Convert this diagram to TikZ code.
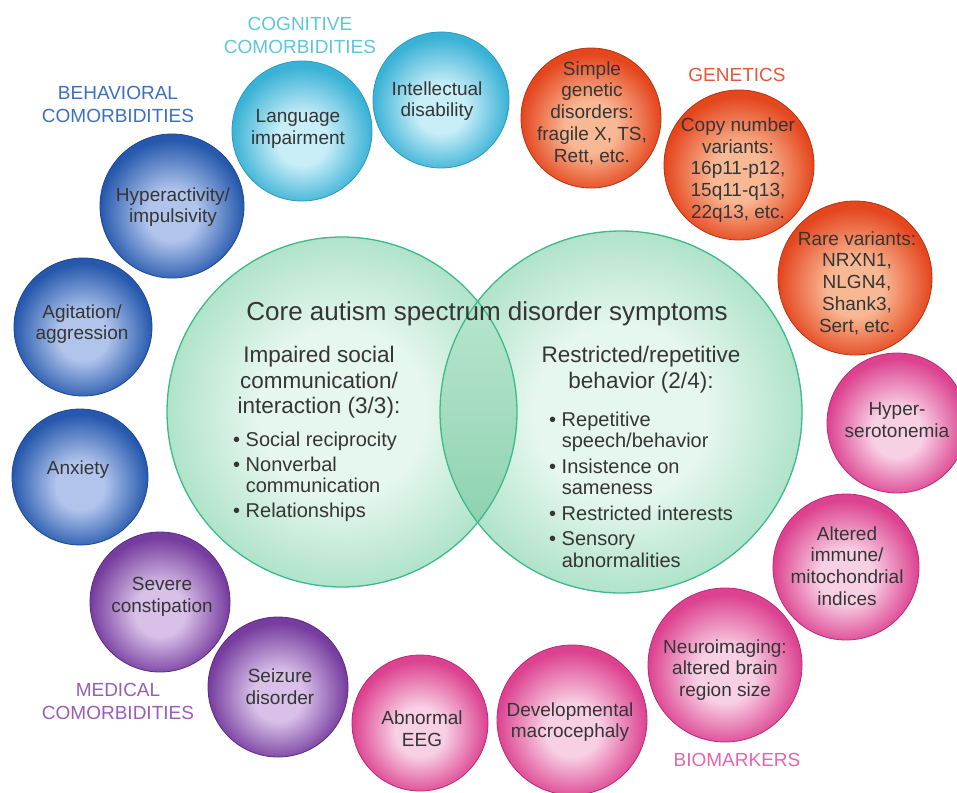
\documentclass[tikz,border=0pt]{standalone}
\usepackage{fontspec}
\setmainfont{Liberation Sans}
\definecolor{txtgray}{HTML}{353535}
\definecolor{coglight}{HTML}{C8EEF8}\definecolor{cogdark}{HTML}{3AB2D6}\definecolor{cogline}{HTML}{2A98BE}\definecolor{coglab}{HTML}{5EC6DC}
\definecolor{behlight}{HTML}{B0C4EC}\definecolor{behdark}{HTML}{2659AD}\definecolor{behline}{HTML}{1C4590}\definecolor{behlab}{HTML}{3D6FBF}
\definecolor{genlight}{HTML}{F9B894}\definecolor{gendark}{HTML}{E4461E}\definecolor{genline}{HTML}{B83212}\definecolor{genlab}{HTML}{E3583A}
\definecolor{biolight}{HTML}{F8D0E4}\definecolor{biodark}{HTML}{DC4290}\definecolor{bioline}{HTML}{B82A74}\definecolor{biolab}{HTML}{E466A8}
\definecolor{medlight}{HTML}{D8C0E8}\definecolor{meddark}{HTML}{763C9E}\definecolor{medline}{HTML}{5A2A80}\definecolor{medlab}{HTML}{9A5DB5}
\definecolor{vennin}{HTML}{E6F7EE}\definecolor{vennout}{HTML}{B0E3CA}\definecolor{lenstop}{HTML}{C2EAD6}\definecolor{lensbot}{HTML}{7FCCA6}\definecolor{vennline}{HTML}{3DB98C}
\pgfdeclareradialshading{cogsh}{\pgfpoint{0bp}{-4bp}}{color(0bp)=(coglight); color(9bp)=(coglight); color(25bp)=(cogdark); color(50bp)=(cogdark)}
\pgfdeclareradialshading{behsh}{\pgfpoint{0bp}{-4bp}}{color(0bp)=(behlight); color(9bp)=(behlight); color(25bp)=(behdark); color(50bp)=(behdark)}
\pgfdeclareradialshading{gensh}{\pgfpoint{0bp}{-4bp}}{color(0bp)=(genlight); color(9bp)=(genlight); color(25bp)=(gendark); color(50bp)=(gendark)}
\pgfdeclareradialshading{biosh}{\pgfpoint{0bp}{-4bp}}{color(0bp)=(biolight); color(9bp)=(biolight); color(25bp)=(biodark); color(50bp)=(biodark)}
\pgfdeclareradialshading{medsh}{\pgfpoint{0bp}{-4bp}}{color(0bp)=(medlight); color(9bp)=(medlight); color(25bp)=(meddark); color(50bp)=(meddark)}
\pgfdeclareradialshading{vennsh}{\pgfpoint{0bp}{0bp}}{color(0bp)=(vennin); color(12bp)=(vennin); color(25bp)=(vennout); color(50bp)=(vennout)}
\begin{document}
\begin{tikzpicture}[x=1pt,y=-1pt,
  sph/.style n args={3}{circle, inner sep=0pt, minimum size=#1, shade, shading=#2, draw=#3, line width=0.8pt},
  stxt/.style={align=center, font=\fontsize{19}{21.7}\selectfont, text=txtgray, inner sep=0pt},
  cat/.style={align=center, font=\fontsize{19}{23}\selectfont, inner sep=0pt},
  venn/.style={circle, inner sep=0pt, minimum size=#1, shade, shading=vennsh},
  vline/.style={draw=vennline, line width=1.3pt},
  hdr/.style={align=center, font=\fontsize{22.5}{25.5}\selectfont, text=txtgray, inner sep=0pt},
  bul/.style={align=left, font=\fontsize{20}{21.5}\selectfont, text=txtgray, inner sep=0pt}]
\useasboundingbox (0,0) rectangle (957,792);
\clip (0,0) rectangle (957,792);
% Venn diagram
\node[venn=350pt] (L) at (342,412) {};
\node[venn=362pt] (R) at (621,412) {};
\begin{scope}
  \clip (L.center) circle[radius=175pt];
  \shade[top color=lenstop, bottom color=lensbot, middle color=lenstop!55!lensbot] (R.center) circle[radius=181pt];
\end{scope}
\draw[vline] (L.center) circle[radius=175pt];
\draw[vline] (R.center) circle[radius=181pt];
\node[inner sep=0pt, font=\fontsize{26}{30}\selectfont, text=txtgray, anchor=base] (title) at (487,320) {Core autism spectrum disorder symptoms};
\node[hdr, anchor=north] (lh) at (319,346) {Impaired social\\communication/\\interaction (3/3):};
\node[bul, anchor=north west] (lb) at (233,431.5) {\textbullet\ Social reciprocity\\[3.5pt]\textbullet\ Nonverbal\\\phantom{\textbullet\ }communication\\[3.5pt]\textbullet\ Relationships};
\node[hdr, anchor=north] (rh) at (641,346) {Restricted/repetitive\\behavior (2/4):};
\node[bul, anchor=north west] (rb) at (549,411.5) {\textbullet\ Repetitive\\\phantom{\textbullet\ }speech/behavior\\[4pt]\textbullet\ Insistence on\\\phantom{\textbullet\ }sameness\\[4pt]\textbullet\ Restricted interests\\[4pt]\textbullet\ Sensory\\\phantom{\textbullet\ }abnormalities};
% Cognitive
\node[sph={136pt}{cogsh}{cogline}] (intel) at (441,100) {};
\node[stxt] (intelt) at (437,101) {Intellectual\\disability};
\node[sph={140pt}{cogsh}{cogline}] (lang) at (302,131) {};
\node[stxt] (langt) at (298,129) {Language\\impairment};
% Behavioral
\node[sph={144pt}{behsh}{behline}] (hyper) at (172,206) {};
\node[stxt] (hypert) at (173,207) {Hyperactivity/\\impulsivity};
\node[sph={138pt}{behsh}{behline}] (agit) at (83,327) {};
\node[stxt] (agitt) at (82,324) {Agitation/\\aggression};
\node[sph={136pt}{behsh}{behline}] (anx) at (80,477) {};
\node[stxt] (anxt) at (78,470) {Anxiety};
% Medical
\node[sph={140pt}{medsh}{medline}] (sev) at (160,602) {};
\node[stxt] (sevt) at (162,597) {Severe\\constipation};
\node[sph={140pt}{medsh}{medline}] (seiz) at (278,687) {};
\node[stxt] (seizt) at (280,687) {Seizure\\disorder};
% Biomarkers
\node[sph={136pt}{biosh}{bioline}] (eeg) at (420,723) {};
\node[stxt] (eegt) at (422,729) {Abnormal\\EEG};
\node[sph={150pt}{biosh}{bioline}] (dev) at (572,720) {};
\node[stxt] (devt) at (570,722) {Developmental\\macrocephaly};
\node[sph={154pt}{biosh}{bioline}] (neuro) at (725,665) {};
\node[stxt] (neurot) at (725,670) {Neuroimaging:\\altered brain\\region size};
\node[sph={146pt}{biosh}{bioline}] (immune) at (846,567) {};
\node[stxt] (immunet) at (847,566) {Altered\\immune/\\mitochondrial\\indices};
\node[sph={140pt}{biosh}{bioline}] (sero) at (897,423) {};
\node[stxt] (serot) at (897,420) {Hyper-\\serotonemia};
% Genetics
\node[sph={154pt}{gensh}{genline}] (rare) at (855,278) {};
\node[stxt] (raret) at (857,283) {Rare variants:\\NRXN1,\\NLGN4,\\Shank3,\\Sert, etc.};
\node[sph={150pt}{gensh}{genline}] (copy) at (739,165) {};
\node[stxt] (copyt) at (738,170) {Copy number\\variants:\\16p11-p12,\\15q11-q13,\\22q13, etc.};
\node[sph={140pt}{gensh}{genline}] (simple) at (591,118) {};
\node[stxt] (simplet) at (592,113) {Simple\\genetic\\disorders:\\fragile X, TS,\\Rett, etc.};
% Category labels
\node[cat, text=coglab] (cogl) at (300,35) {COGNITIVE\\COMORBIDITIES};
\node[cat, text=behlab] (behl) at (118,104) {BEHAVIORAL\\COMORBIDITIES};
\node[cat, text=genlab] (genl) at (737,75) {GENETICS};
\node[cat, text=medlab] (medl) at (118,701) {MEDICAL\\COMORBIDITIES};
\node[cat, text=biolab] (biol) at (737,760) {BIOMARKERS};
\end{tikzpicture}
\end{document}
